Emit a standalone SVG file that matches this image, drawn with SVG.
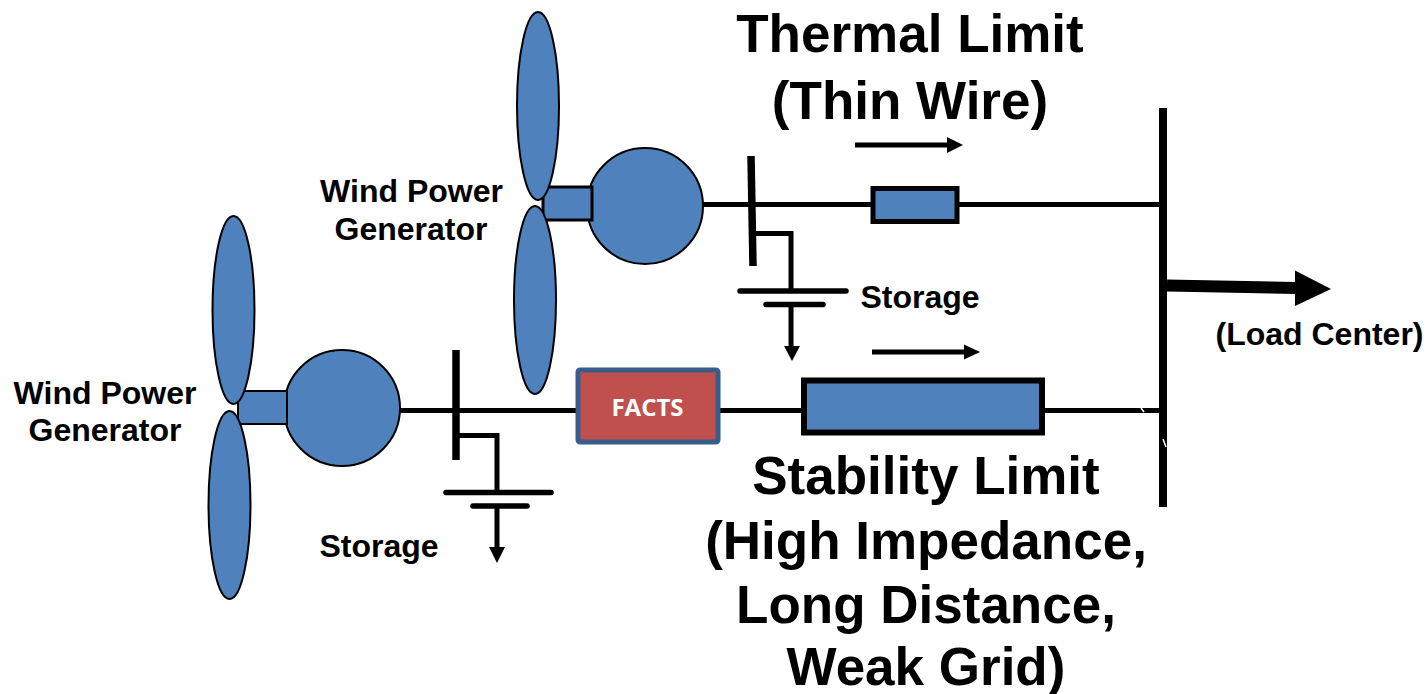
<svg xmlns="http://www.w3.org/2000/svg" width="1427" height="694" viewBox="0 0 1427 694">
<style>
.b{fill:#4f81bd;stroke:#000;stroke-width:2}
.t{stroke-width:3}
.w{fill:none;stroke:#000;stroke-width:5}
.bus{fill:none;stroke:#000;stroke-width:7.5}
.cap{fill:none;stroke:#000;stroke-width:5.5;stroke-linecap:round}
.h{fill:#000;stroke:none}
text{font-family:"Liberation Sans",Arial,sans-serif;font-weight:700;fill:#000;text-anchor:middle}
.big{font-size:53px}
.sm{font-size:32px}
</style>
<rect width="1427" height="694" fill="#fff"/>
<g id="connectors">
<path class="w" d="M702 204.500H1162"/>
<path class="w" d="M400 410.500H1162"/>
<path class="bus" d="M751 156L753 266"/>
<path class="bus" d="M456 350V460"/>
<path class="bus" d="M1163 108V507" style="stroke-width:8"/>
<path class="w" d="M755 233.500H791V291"/>
<path class="w" d="M791 303V350"/>
<path class="h" d="M784 346H800L792 361Z"/>
<path class="cap" d="M740 291H846M766 304.500H823"/>
<path class="w" d="M458 435.500H497V492"/>
<path class="w" d="M497 506V550"/>
<path class="h" d="M489 547H505L497 563Z"/>
<path class="cap" d="M446 492.500H551M473 506H527"/>
<path class="w" d="M855 145H948"/>
<path class="h" d="M947 137L963 145L947 153Z"/>
<path class="w" d="M872 352H966"/>
<path class="h" d="M964 344.500L980 352L964 359.500Z"/>
<path d="M1167 285.500L1297 288" fill="none" stroke="#000" stroke-width="12"/>
<path class="h" d="M1295 270.500L1331 289L1295 306Z"/>
<path d="M1141 408L1144 412M1163 439L1166 447" fill="none" stroke="#fff" stroke-width="1.500"/>
</g>
<g id="generator-top">
<circle class="b" cx="645" cy="206" r="58"/>
<rect class="b t" x="543" y="187" width="49" height="33"/>
<ellipse class="b" cx="538" cy="106" rx="21" ry="94"/>
<ellipse class="b" cx="535" cy="300" rx="21" ry="94"/>
<text class="sm" x="411.500" y="202">Wind Power</text>
<text class="sm" x="411" y="240">Generator</text>
</g>
<g id="generator-bottom">
<circle class="b" cx="342" cy="408" r="58"/>
<rect class="b" x="238" y="391" width="49" height="33"/>
<ellipse class="b" cx="233.500" cy="310" rx="21" ry="94"/>
<ellipse class="b" cx="229.500" cy="505" rx="21" ry="94"/>
<text class="sm" x="105" y="404">Wind Power</text>
<text class="sm" x="105" y="441">Generator</text>
</g>
<g id="thermal-limit">
<rect x="873" y="188.500" width="84" height="33" fill="#4f81bd" stroke="#000" stroke-width="5"/>
<text class="big" x="910" y="52">Thermal Limit</text>
<text class="big" x="910" y="119">(Thin Wire)</text>
</g>
<g id="stability-limit">
<rect x="804" y="380.500" width="238" height="52" fill="#4f81bd" stroke="#000" stroke-width="6"/>
<text class="big" x="926" y="494">Stability Limit</text>
<text class="big" x="926" y="559">(High Impedance,</text>
<text class="big" x="926" y="623">Long Distance,</text>
<text class="big" x="926" y="685">Weak Grid)</text>
</g>
<g id="facts">
<rect x="578" y="370" width="140" height="72" rx="2" fill="#c0504d" stroke="#385d8a" stroke-width="5"/>
<text x="647.500" y="416" style="font-family:'Open Sans','Liberation Sans',sans-serif;font-size:24px;fill:#fff">FACTS</text>
</g>
<g id="storage-top"><text class="sm" x="920" y="308">Storage</text></g>
<g id="storage-bottom"><text class="sm" x="379" y="557">Storage</text></g>
<g id="load-center"><text class="sm" x="1319.500" y="345">(Load Center)</text></g>
</svg>
